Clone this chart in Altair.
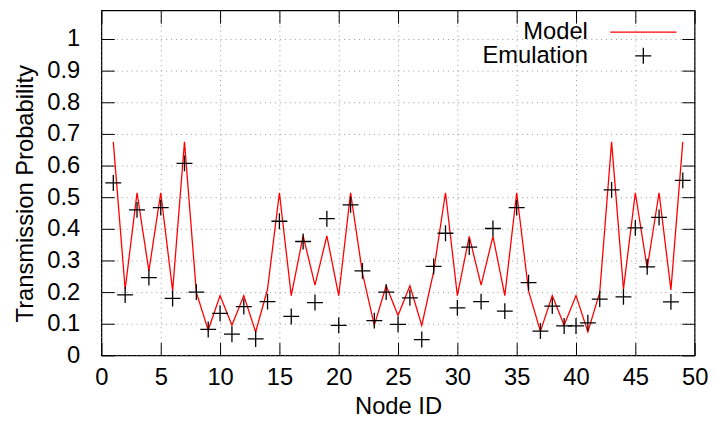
import altair as alt
import pandas as pd

# ---------------- data ----------------
node_ids = list(range(1, 50))

model = [0.675, 0.209, 0.514, 0.267, 0.514, 0.204, 0.675, 0.199, 0.080, 0.189,
         0.095, 0.189, 0.074, 0.209, 0.514, 0.189, 0.378, 0.222, 0.378, 0.189,
         0.514, 0.260, 0.095, 0.220, 0.126, 0.220, 0.095, 0.265, 0.514, 0.189,
         0.376, 0.222, 0.376, 0.189, 0.514, 0.204, 0.076, 0.189, 0.095, 0.189,
         0.074, 0.199, 0.675, 0.209, 0.514, 0.275, 0.514, 0.207, 0.675]

emulation = [0.545, 0.191, 0.460, 0.246, 0.467, 0.180, 0.607, 0.200, 0.082, 0.133,
             0.067, 0.154, 0.052, 0.170, 0.424, 0.123, 0.360, 0.167, 0.432, 0.095,
             0.476, 0.267, 0.110, 0.200, 0.098, 0.182, 0.050, 0.281, 0.386, 0.150,
             0.342, 0.170, 0.401, 0.140, 0.467, 0.230, 0.077, 0.156, 0.093, 0.093,
             0.103, 0.178, 0.523, 0.185, 0.403, 0.280, 0.436, 0.169, 0.553]

x_ticks = [0, 5, 10, 15, 20, 25, 30, 35, 40, 45, 50]
y_ticks = [0, 0.1, 0.2, 0.3, 0.4, 0.5, 0.6, 0.7, 0.8, 0.9, 1]
series_names = ["Model", "Emulation"]

df_model = pd.DataFrame({"node": node_ids, "value": model})
df_emu = pd.DataFrame({"node": node_ids, "value": emulation})
df_legend = pd.DataFrame({"series": pd.Series([], dtype="str")})

# ---------------- style ----------------
FONT = "Liberation Sans"
FS = 24
PLUS_PATH = "M-0.72,0H0.72M0,-0.72V0.72"
LEG_LINE_PATH = "M3.1,0H9.1"
LEG_PLUS_PATH = "M5.38,0H6.82M6.1,-0.72V0.72"
SYM_SIZE = 498

xscale = alt.Scale(domain=[0, 50], nice=False, zero=False)
yscale = alt.Scale(domain=[0, 1.090625], nice=False, zero=False)
color_scale = alt.Scale(domain=series_names, range=["#ff0000", "#000000"])
shape_scale = alt.Scale(domain=series_names, range=[LEG_LINE_PATH, LEG_PLUS_PATH])

common_axis = dict(
    offset=-13, tickSize=13, tickColor="black", tickWidth=1, domain=False,
    labelFont=FONT, labelFontSize=FS, labelColor="black", labelOverlap=False,
    labelFlush=False, titleFont=FONT, titleFontSize=FS, titleFontWeight="normal",
    titleColor="black",
)

x_axis_bottom = alt.Axis(
    orient="bottom", values=x_ticks, grid=True, gridDash=[1, 4], gridColor="#999999",
    gridWidth=1, labelPadding=10, title="Node ID", titlePadding=6, **common_axis)
y_axis_left = alt.Axis(
    orient="left", values=y_ticks, format="~g", grid=True, gridDash=[1, 4],
    gridColor="#999999", gridWidth=1, labelPadding=22, title="Transmission Probability",
    titlePadding=9, titleY=185, **common_axis)
x_axis_top = alt.Axis(orient="top", values=x_ticks, labels=False, title=None,
                      grid=False, offset=-13, tickSize=13, tickColor="black", domain=False)
y_axis_right = alt.Axis(orient="right", values=y_ticks, labels=False, title=None,
                        grid=False, offset=-13, tickSize=13, tickColor="black", domain=False)

leg = alt.Legend(
    title=None, orient="none", legendX=468, legendY=10, padding=0,
    labelAlign="right", labelOffset=0, symbolOffset=0,
    labelFont=FONT, labelFontSize=FS, labelColor="black",
    symbolSize=SYM_SIZE, symbolStrokeWidth=1.3, rowPadding=-7,
)

line = alt.Chart(df_model).mark_line(color="#ff0000", strokeWidth=1.3).encode(
    x=alt.X("node:Q", scale=xscale, axis=x_axis_bottom),
    y=alt.Y("value:Q", scale=yscale, axis=y_axis_left),
)

points = alt.Chart(df_emu).mark_point(
    filled=False, size=SYM_SIZE, strokeWidth=1.3, opacity=1, color="black",
    shape=PLUS_PATH,
).encode(
    x=alt.X("node:Q", scale=xscale, axis=x_axis_top),
    y=alt.Y("value:Q", scale=yscale, axis=y_axis_right),
)

legend_layer = alt.Chart(df_legend).mark_point(
    filled=False, size=SYM_SIZE, strokeWidth=1.3, opacity=1
).encode(
    color=alt.Color("series:N", scale=color_scale, legend=leg),
    shape=alt.Shape("series:N", scale=shape_scale, legend=leg),
)

chart = alt.layer(line, points, legend_layer).resolve_axis(
    x="independent", y="independent"
).properties(
    width=600, height=349,
    autosize=alt.AutoSizeParams(type="none"),
    padding={"left": 94.5, "top": 0, "right": 13.5, "bottom": 63},
    background="white",
).configure_view(stroke="black", strokeWidth=1.3)

chart.save("out.html", embed_options={"renderer": "svg", "actions": False})
